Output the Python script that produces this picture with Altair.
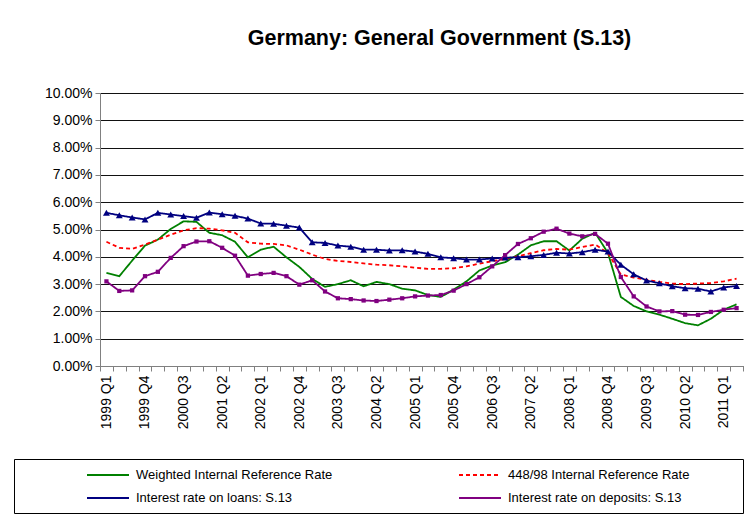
import json
import altair as alt
import pandas as pd

quarters = [f"{y} Q{q}" for y in range(1999, 2012) for q in range(1, 5)][:50]

weighted = [3.41, 3.29, 3.86, 4.41, 4.63, 5.02, 5.30, 5.28, 4.88, 4.79,
            4.55, 3.98, 4.26, 4.37, 3.98, 3.63, 3.19, 2.90, 3.00, 3.14,
            2.92, 3.08, 3.00, 2.83, 2.77, 2.60, 2.53, 2.80, 3.10, 3.50,
            3.68, 3.80, 4.08, 4.42, 4.57, 4.57, 4.23, 4.66, 4.88, 4.14,
            2.53, 2.20, 2.00, 1.88, 1.73, 1.57, 1.49, 1.73, 2.06, 2.26]
ref448 = [4.55, 4.33, 4.29, 4.45, 4.63, 4.81, 4.97, 5.05, 5.03, 4.97,
          4.88, 4.53, 4.48, 4.47, 4.42, 4.26, 4.08, 3.92, 3.85, 3.81,
          3.76, 3.71, 3.69, 3.65, 3.60, 3.56, 3.56, 3.58, 3.65, 3.75,
          3.84, 3.92, 4.02, 4.13, 4.24, 4.29, 4.26, 4.36, 4.45, 4.14,
          3.35, 3.24, 3.16, 3.08, 3.02, 3.00, 3.02, 3.04, 3.10, 3.20]
loans = [5.61, 5.52, 5.44, 5.37, 5.61, 5.55, 5.49, 5.43, 5.62, 5.56,
         5.50, 5.40, 5.22, 5.21, 5.14, 5.07, 4.53, 4.51, 4.41, 4.37,
         4.26, 4.26, 4.23, 4.24, 4.19, 4.11, 3.98, 3.95, 3.90, 3.90,
         3.94, 3.97, 3.98, 4.02, 4.07, 4.15, 4.12, 4.17, 4.26, 4.19,
         3.71, 3.36, 3.13, 3.03, 2.92, 2.85, 2.83, 2.73, 2.88, 2.93]
deposits = [3.10, 2.75, 2.77, 3.29, 3.45, 3.96, 4.39, 4.56, 4.57, 4.33,
            4.04, 3.31, 3.37, 3.41, 3.29, 2.98, 3.14, 2.73, 2.48, 2.45,
            2.40, 2.38, 2.43, 2.48, 2.55, 2.58, 2.60, 2.76, 3.00, 3.25,
            3.65, 4.06, 4.47, 4.68, 4.92, 5.03, 4.85, 4.75, 4.84, 4.48,
            3.26, 2.55, 2.18, 2.00, 2.01, 1.88, 1.87, 1.98, 2.06, 2.12]

series_names = ["Weighted Internal Reference Rate", "448/98 Internal Reference Rate",
                "Interest rate on loans: S.13", "Interest rate on deposits: S.13"]
colors = ["#008000", "#FF0000", "#000080", "#800080"]
dashes = [[1, 0], [4, 3], [1, 0], [1, 0]]
y_ticks = [i / 100 for i in range(11)]

rows = []
for s, vals in zip(series_names, [weighted, ref448, loans, deposits]):
    for i, (q, v) in enumerate(zip(quarters, vals)):
        rows.append({"series": s, "quarter": q, "pos": i + 0.5, "rate": v / 100})
df = pd.DataFrame(rows)

FONT = "Liberation Sans"
label_expr = ("(datum.value % 3 == 0 && datum.value < 50) ? "
              + json.dumps(quarters) + "[datum.value] : ''")

x_enc = alt.X("pos:Q", scale=alt.Scale(domain=[0, 50], nice=False, zero=False),
              axis=alt.Axis(values=list(range(51)), labelExpr=label_expr, labelAngle=270,
                            labelOffset=6.4, labelOverlap=False, labelFlush=False,
                            labelBound=False, labelFontSize=14, labelFont=FONT,
                            labelColor="#000", labelPadding=4, tickSize=5,
                            tickColor="#808080", domainColor="#808080", grid=False,
                            title=None))
y_enc = alt.Y("rate:Q", scale=alt.Scale(domain=[0, 0.1], nice=False),
              axis=alt.Axis(values=y_ticks, format=".2%", labelFontSize=14,
                            labelFont=FONT, labelColor="#000", labelPadding=3,
                            tickSize=5, tickColor="#808080", domainColor="#808080",
                            grid=True, gridColor="#111", gridWidth=1, title=None))

legend = alt.Legend(title=" ", titleOrient="right", titlePadding=46,
                    orient="none", legendX=-86, legendY=366, columns=2,
                    direction="horizontal",
                    symbolType="M-3,0H3", symbolSize=196, symbolStrokeWidth=1.8,
                    labelFont=FONT, labelFontSize=13, labelColor="#000", labelLimit=400,
                    strokeColor="#000", fillColor="#fff", padding=8, columnPadding=61,
                    rowPadding=8, symbolOffset=78, gridAlign="all", labelOffset=20)

lines = alt.Chart(df).mark_line(strokeWidth=1.8).encode(
    x=x_enc, y=y_enc,
    color=alt.Color("series:N", scale=alt.Scale(domain=series_names, range=colors),
                    legend=legend),
    strokeDash=alt.StrokeDash("series:N", scale=alt.Scale(domain=series_names, range=dashes),
                              legend=legend),
    order=alt.Order("pos:Q"),
)

loan_pts = alt.Chart(df[df.series == series_names[2]]).mark_point(
    shape="triangle-up", filled=True, size=48, color="#000080", opacity=1
).encode(x=x_enc, y=y_enc)

dep_pts = alt.Chart(df[df.series == series_names[3]]).mark_square(
    size=18, color="#800080", opacity=1
).encode(x=x_enc, y=y_enc)

chart = alt.layer(lines, loan_pts, dep_pts).properties(
    width=643, height=273,
    autosize=alt.AutoSizeParams(type="none"),
    padding={"left": 92, "top": 85, "right": 4, "bottom": 150},
    title=alt.Title("Germany:  General Government (S.13)", font=FONT, fontSize=21.5,
                    fontWeight="bold", color="#000", anchor="middle", dx=18, offset=37),
).configure_view(stroke=None)

chart.save("out.html", embed_options={"renderer": "svg", "actions": False})
